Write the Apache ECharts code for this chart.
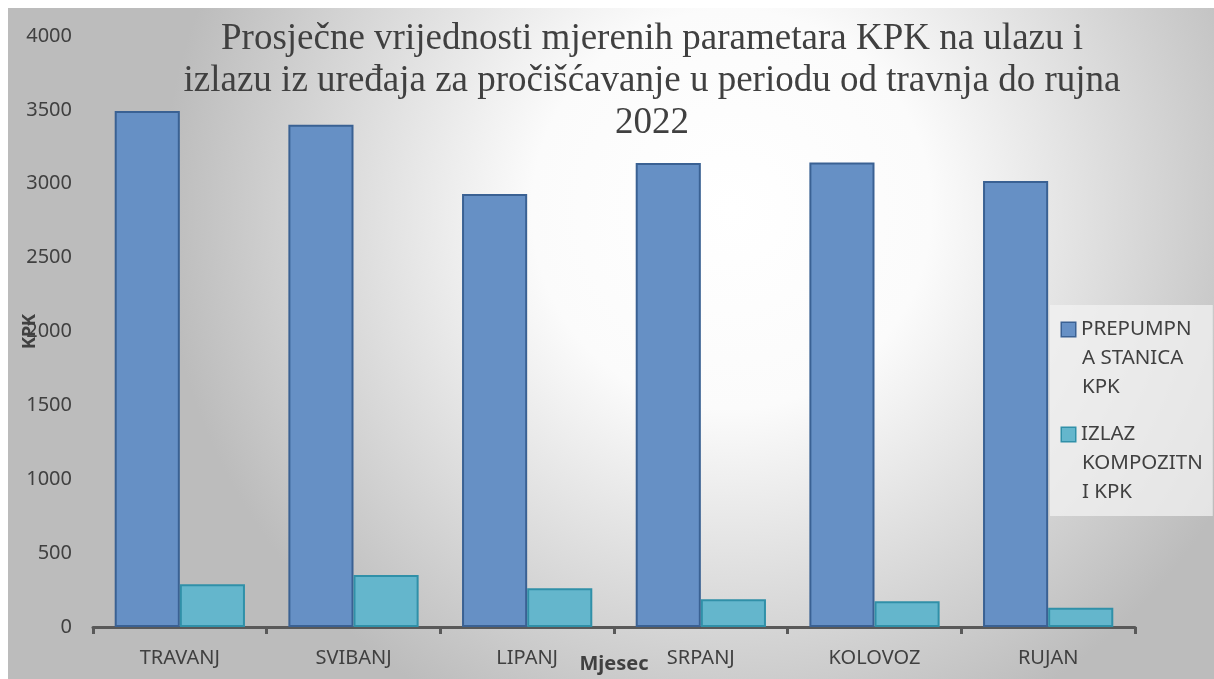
<!DOCTYPE html>
<html><head><meta charset="utf-8">
<script src="https://cdn.jsdelivr.net/npm/echarts@6/dist/echarts.min.js"></script>
<style>html,body{margin:0;padding:0;background:#fff;}#c{position:absolute;left:8px;top:8px;width:1206px;height:671px;}</style>
</head><body><div id="c"></div>
<script>
const categories = ['TRAVANJ','SVIBANJ','LIPANJ','SRPANJ','KOLOVOZ','RUJAN'];
const seriesNames = ['PREPUMPNA STANICA KPK','IZLAZ KOMPOZITNI KPK'];
const legendLines = [['PREPUMPN','A STANICA','KPK'],['IZLAZ','KOMPOZITN','I KPK']];
const prepumpna = [3492, 3400, 2930, 3140, 3144, 3018];
const izlaz = [289, 352, 262, 187, 174, 131];
const titleText = 'Prosječne vrijednosti mjerenih parametara KPK na ulazu i\nizlazu iz uređaja za pročišćavanje u periodu od travnja do rujna\n2022';

const colors = ['#6690C5','#64B6CC'];
const borders = ['#3A6193','#3090A8'];
const FONT = 'Noto Sans';

const chart = echarts.init(document.getElementById('c'));
const rich = {
  t:{fontFamily:FONT, fontSize:20.5, color:'#404040', lineHeight:29},
  g:{width:6},
  pad:{width:20}
};
seriesNames.forEach((n,i)=>{
  rich['s'+i] = {width:13, height:13, backgroundColor:colors[i], borderColor:borders[i], borderWidth:1.5};
});
chart.setOption({
  backgroundColor: {type:'radial', x:0.6, y:0.3, r:0.85, colorStops:[{offset:0,color:'#ffffff'},{offset:0.35,color:'#fbfbfb'},{offset:1,color:'#bcbcbc'}]},
  animation:false,
  title:{text:titleText, left:647-8, top:5, textAlign:'center',
    textStyle:{fontFamily:'Liberation Serif', fontSize:37, fontWeight:'normal', color:'#404040', lineHeight:42}},
  grid:{left:85, right:79, top:28, bottom:52, containLabel:false, outerBoundsMode:'none'},
  legend:{orient:'vertical', left:1042, top:297, icon:'none', itemWidth:0, itemHeight:0, itemGap:26,
    backgroundColor:'rgba(242,242,242,0.75)', padding:[14,10,13,7],
    formatter:n=>{
      const i = seriesNames.indexOf(n);
      return legendLines[i].map((l,k)=> (k===0 ? '{s'+i+'|}{g|}' : '{pad|}') + '{t|'+l+'}').join('\n');
    },
    textStyle:{rich:rich},
    data:seriesNames},
  xAxis:{type:'category', data:categories,
    axisLine:{lineStyle:{color:'#595959', width:3}},
    axisTick:{show:true, length:7, lineStyle:{color:'#595959', width:3}},
    axisLabel:{fontFamily:FONT, fontSize:20, color:'#404040', margin:21},
    name:'Mjesec', nameLocation:'middle', nameGap:27, nameMoveOverlap:false,
    nameTextStyle:{fontFamily:FONT, fontSize:20, fontWeight:'bold', color:'#404040'}},
  yAxis:{type:'value', min:0, max:4000, interval:500,
    axisLine:{show:false}, axisTick:{show:false}, splitLine:{show:false},
    axisLabel:{fontFamily:FONT, fontSize:20, color:'#404040', margin:21, formatter:v=>String(v)},
    name:'KPK', nameLocation:'middle', nameGap:54, nameRotate:90, nameMoveOverlap:false,
    nameTextStyle:{fontFamily:FONT, fontSize:18, fontWeight:'bold', color:'#404040'}},
  series:[
    {name:seriesNames[0], type:'bar', data:prepumpna, barGap:'0%', barCategoryGap:'25%',
      itemStyle:{color:colors[0], borderColor:borders[0], borderWidth:2}},
    {name:seriesNames[1], type:'bar', data:izlaz,
      itemStyle:{color:colors[1], borderColor:borders[1], borderWidth:2}}
  ]
});
</script></body></html>
